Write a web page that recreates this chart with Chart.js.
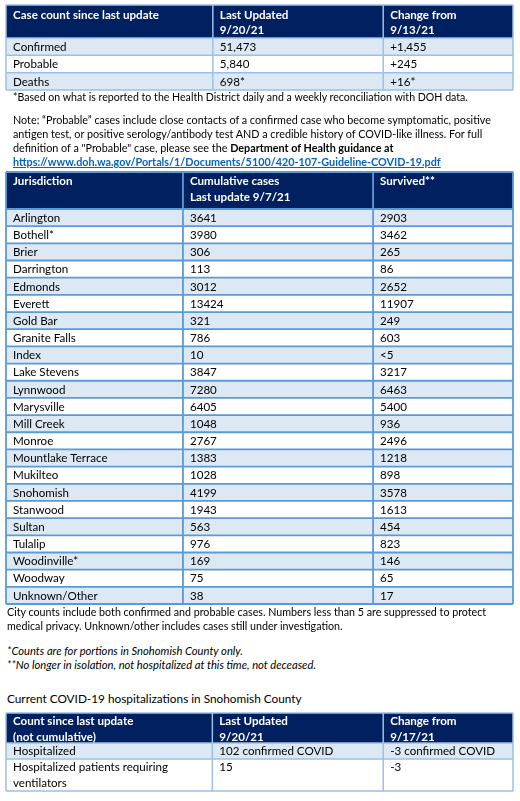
<!DOCTYPE html>
<html>
<head>
<meta charset="utf-8">
<script src="https://cdn.jsdelivr.net/npm/chart.js"></script>
<style>
  body { margin: 0; background: #fff; font-family: Lato, "Noto Sans", sans-serif; color: #000; }
  #page { position: relative; width: 520px; height: 801px; overflow: hidden; }
  canvas, .txt { position: absolute; }
  .txt { left: 13px; white-space: nowrap; font-size: 10.6px; line-height: 14px; }
  .note { font-size: 10.8px; }
  .note a { color: #0563c1; font-weight: bold; text-decoration: underline; }
  .city { left: 7px; font-size: 10.7px; }
  .it { font-style: italic; left: 7px; font-size: 11.2px; }
  .head { left: 7px; font-size: 11.8px; }
</style>
</head>
<body>
<div id="page">
  <canvas id="caseTable" width="509" height="87" style="left:5px; top:4px;"></canvas>
  <div class="txt" style="top:90px;">*Based on what is reported to the Health District daily and a weekly reconciliation with DOH data.</div>
  <div class="txt note" style="top:113px;">Note: “Probable” cases include close contacts of a confirmed case who become symptomatic, positive<br>antigen test, or positive serology/antibody test AND a credible history of COVID-like illness. For full<br>definition of a "Probable" case, please see the <b>Department of Health guidance at</b><br><a>https://www.doh.wa.gov/Portals/1/Documents/5100/420-107-Guideline-COVID-19.pdf</a></div>
  <canvas id="jurTable" width="509" height="434" style="left:5px; top:171px;"></canvas>
  <div class="txt city" style="top:605px;">City counts include both confirmed and probable cases. Numbers less than 5 are suppressed to protect<br>medical privacy. Unknown/other includes cases still under investigation.</div>
  <div class="txt it" style="top:644px;">*Counts are for portions in Snohomish County only.</div>
  <div class="txt it" style="top:658px;">**No longer in isolation, not hospitalized at this time, not deceased.</div>
  <div class="txt head" style="top:692px;">Current COVID-19 hospitalizations in Snohomish County</div>
  <canvas id="hospTable" width="509" height="80" style="left:5px; top:712px;"></canvas>
</div>
<script>
// --- Case counts ---
const caseHeaders = ['Case count since last update', 'Last Updated\n9/20/21', 'Change from\n9/13/21'];
const caseTypes = ['Confirmed', 'Probable', 'Deaths'];
const caseLast = ['51,473', '5,840', '698*'];
const caseChange = ['+1,455', '+245', '+16*'];

// --- Jurisdictions ---
const jurHeaders = ['Jurisdiction', 'Cumulative cases\nLast update 9/7/21', 'Survived**'];
const jurisdictions = ['Arlington', 'Bothell*', 'Brier', 'Darrington', 'Edmonds', 'Everett', 'Gold Bar',
  'Granite Falls', 'Index', 'Lake Stevens', 'Lynnwood', 'Marysville', 'Mill Creek', 'Monroe',
  'Mountlake Terrace', 'Mukilteo', 'Snohomish', 'Stanwood', 'Sultan', 'Tulalip', 'Woodinville*',
  'Woodway', 'Unknown/Other'];
const cumulativeCases = [3641, 3980, 306, 113, 3012, 13424, 321, 786, 10, 3847, 7280, 6405, 1048, 2767,
  1383, 1028, 4199, 1943, 563, 976, 169, 75, 38];
const survived = [2903, 3462, 265, 86, 2652, 11907, 249, 603, '<5', 3217, 6463, 5400, 936, 2496,
  1218, 898, 3578, 1613, 454, 823, 146, 65, 17];

// --- Hospitalizations ---
const hospHeaders = ['Count since last update\n(not cumulative)', 'Last Updated\n9/20/21', 'Change from\n9/17/21'];
const hospTypes = ['Hospitalized', 'Hospitalized patients requiring ventilators'];
const hospLast = ['102 confirmed COVID', '15'];
const hospChange = ['-3 confirmed COVID', '-3'];

const NAVY = '#002060';
const LIGHT = '#dde8f5';
const TEXT = '#000000';
const BODY_FONT = '11.6px Lato';
const HEAD_FONT = 'bold 11.6px Lato';
const PAD = 7;

function wrap(ctx, text, width) {
  const out = [];
  String(text).split('\n').forEach(par => {
    let line = '';
    par.split(' ').forEach(word => {
      const test = line ? line + ' ' + word : word;
      if (line && ctx.measureText(test).width > width) { out.push(line); line = word; }
      else line = test;
    });
    out.push(line);
  });
  return out;
}

const tablePlugin = {
  id: 'tableCells',
  afterDatasetsDraw(chart) {
    const t = chart.options.plugins.tableCells;
    const { ctx, chartArea: area, scales: { x, y } } = chart;
    const slotH = (area.bottom - area.top) / t.slotRow.length;
    const headTop = area.top - t.headerHeight;
    const colW = c => x.getPixelForValue(t.edges[c + 1]) - x.getPixelForValue(t.edges[c]) - 2 * PAD;
    ctx.save();
    ctx.textBaseline = 'middle';

    // header band
    ctx.fillStyle = NAVY;
    ctx.fillRect(area.left, headTop, area.right - area.left, t.headerHeight);
    ctx.font = HEAD_FONT;
    ctx.fillStyle = '#ffffff';
    t.headers.forEach((h, c) => {
      const x0 = x.getPixelForValue(t.edges[c]) + PAD;
      wrap(ctx, h, colW(c)).forEach((line, i) => ctx.fillText(line, x0, headTop + t.headFirst + i * 15.5));
    });

    // body cells
    ctx.font = BODY_FONT;
    ctx.fillStyle = TEXT;
    const rowTops = [];
    t.columns[0].forEach((_, r) => {
      const s = t.slotRow.indexOf(r);
      rowTops.push(y.getPixelForValue(s) - slotH / 2);
    });
    t.columns.forEach((col, c) => {
      const x0 = x.getPixelForValue(t.edges[c]) + PAD;
      col.forEach((val, r) => {
        wrap(ctx, val, colW(c)).forEach((line, i) => ctx.fillText(line, x0, rowTops[r] + slotH * (i + 0.5) + 0.5));
      });
    });

    // grid lines
    ctx.strokeStyle = t.lineColor;
    ctx.lineWidth = t.lineWidth;
    ctx.beginPath();
    [headTop, area.top, ...rowTops.slice(1), area.bottom].forEach(yy => {
      ctx.moveTo(area.left, yy); ctx.lineTo(area.right, yy);
    });
    t.edges.forEach(e => {
      const xx = x.getPixelForValue(e);
      ctx.moveTo(xx, headTop); ctx.lineTo(xx, area.bottom);
    });
    ctx.stroke();
    ctx.restore();
  }
};

function buildTable(id, headers, columns, edges, headerHeight, headFirst, lineColor, lineWidth) {
  const canvas = document.getElementById(id);
  const mctx = canvas.getContext('2d');
  mctx.font = BODY_FONT;
  const areaW = canvas.width - 2;
  // each row takes as many slots as its tallest wrapped cell
  const slotRow = [];
  columns[0].forEach((_, r) => {
    let n = 1;
    columns.forEach((col, c) => {
      n = Math.max(n, wrap(mctx, col[r], (edges[c + 1] - edges[c]) * areaW - 2 * PAD).length);
    });
    for (let i = 0; i < n; i++) slotRow.push(r);
  });

  new Chart(canvas, {
    type: 'bar',
    data: {
      labels: slotRow.map(r => String(columns[0][r])),
      datasets: columns.map((col, c) => ({
        data: slotRow.map(() => [edges[c], edges[c + 1]]),
        backgroundColor: slotRow.map(r => r % 2 === 0 ? LIGHT : '#ffffff'),
        borderWidth: 0,
        barPercentage: 1,
        categoryPercentage: 1,
        grouped: false
      }))
    },
    options: {
      indexAxis: 'y',
      responsive: false,
      animation: false,
      layout: { padding: { top: 1 + headerHeight, left: 1, right: 1, bottom: 1 } },
      scales: {
        x: { type: 'linear', min: 0, max: 1, display: false },
        y: { type: 'category', display: false }
      },
      plugins: {
        legend: { display: false },
        tooltip: { enabled: false },
        tableCells: { headers, columns, edges, slotRow, headerHeight, headFirst, lineColor, lineWidth }
      }
    },
    plugins: [tablePlugin]
  });
}

buildTable('caseTable', caseHeaders, [caseTypes, caseLast, caseChange],
  [0, 0.408, 0.744, 1], 33, 10, '#9dbfe6', 1.5);
buildTable('jurTable', jurHeaders, [jurisdictions, cumulativeCases, survived],
  [0, 0.349, 0.724, 1], 37, 9.5, '#5b9bd5', 1.8);
buildTable('hospTable', hospHeaders, [hospTypes, hospLast, hospChange],
  [0, 0.407, 0.744, 1], 30, 8.5, '#9dbfe6', 1.5);
</script>
</body>
</html>
